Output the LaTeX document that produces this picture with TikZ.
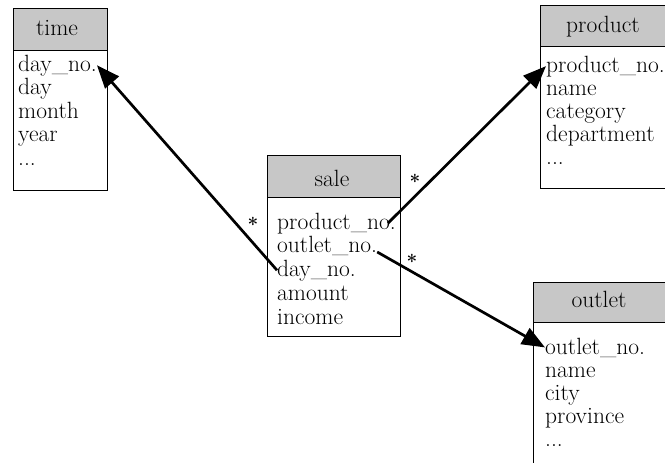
\documentclass[tikz,border=0pt]{standalone}
\usetikzlibrary{arrows.meta}
\begin{document}
\begin{tikzpicture}[x=1pt,y=-1pt,
  hdr/.style={draw=black, line width=1.4pt, fill=black!22, anchor=north west, inner sep=0pt, minimum width=#1},
  bodybox/.style={draw=black, line width=1.4pt, fill=white, anchor=north west, inner sep=0pt, minimum width=#1},
  title/.style={anchor=base, inner sep=0pt, font=\fontsize{23.5}{27}\selectfont},
  field/.style={anchor=base west, inner sep=0pt, font=\fontsize{23.5}{27}\selectfont},
  star/.style={inner sep=0pt, font=\fontsize{19}{22}\selectfont\bfseries},
  rel/.style={line width=2.7pt, -{Triangle[length=23pt,width=18pt]}}
]
\useasboundingbox (0,0) rectangle (665,463);
\begin{scope}
\clip (0,0) rectangle (665,463);
% time
\node[hdr=94pt, minimum height=42pt] (timeh) at (13,8) {};
\node[bodybox=94pt, minimum height=140pt] (timeb) at (13,50) {};
\node[title] (timet) at (57,35) {time};
\node[field] (timeday) at (18,71) {day\_no.};
\node[field] (timed) at (18,94) {day};
\node[field] (timem) at (18,118) {month};
\node[field] (timey) at (18,141) {year};
\node[field] (timex) at (18,165) {...};
% product
\node[hdr=140pt, minimum height=41pt] (prodh) at (540,5) {};
\node[bodybox=140pt, minimum height=142pt] (prodb) at (540,46) {};
\node[title] (prodt) at (603,32) {product};
\node[field] (prodno) at (546,72) {product\_no.};
\node[field] (prodn) at (546,95) {name};
\node[field] (prodc) at (546,118) {category};
\node[field] (prodd) at (546,141) {department};
\node[field] (prodx) at (546,164) {...};
% sale
\node[hdr=133pt, minimum height=42pt] (saleh) at (267,155) {};
\node[bodybox=133pt, minimum height=139pt] (saleb) at (267,197) {};
\node[title] (salet) at (332,186) {sale};
\node[field] (saleprod) at (277,229) {product\_no.};
\node[field] (saleout) at (277,252) {outlet\_no.};
\node[field] (saleday) at (277,276) {day\_no.};
\node[field] (saleam) at (277,300) {amount};
\node[field] (salein) at (277,324) {income};
% outlet
\node[hdr=140pt, minimum height=40pt] (outh) at (533,282) {};
\node[bodybox=140pt, minimum height=160pt] (outb) at (533,322) {};
\node[title] (outt) at (599,307) {outlet};
\node[field] (outno) at (545,354) {outlet\_no.};
\node[field] (outn) at (545,377) {name};
\node[field] (outc) at (545,400) {city};
\node[field] (outp) at (545,423) {province};
\node[field] (outx) at (545,446) {...};
\end{scope}
% stars
\node[star] (s1) at (253,224) {*};
\node[star] (s2) at (415,181) {*};
\node[star] (s3) at (412,261) {*};
% relations
\draw[rel] (saleday.west) -- (timeday.east);
\draw[rel] ([xshift=-8pt]saleprod.east) -- (prodno.west);
\draw[rel] (saleout.base east) -- (outno.west);
\end{tikzpicture}
\end{document}
